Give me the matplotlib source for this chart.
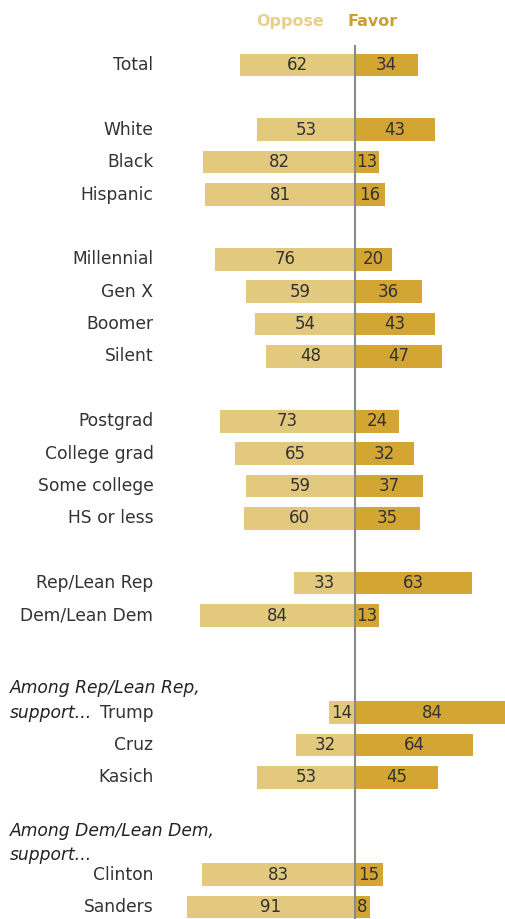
import matplotlib
matplotlib.use("Agg")
import matplotlib.pyplot as plt

categories = ["Total", "White", "Black", "Hispanic", "Millennial", "Gen X", "Boomer", "Silent",
              "Postgrad", "College grad", "Some college", "HS or less",
              "Rep/Lean Rep", "Dem/Lean Dem", "Trump", "Cruz", "Kasich", "Clinton", "Sanders"]
oppose = [62, 53, 82, 81, 76, 59, 54, 48, 73, 65, 59, 60, 33, 84, 14, 32, 53, 83, 91]
favor = [34, 43, 13, 16, 20, 36, 43, 47, 24, 32, 37, 35, 63, 13, 84, 64, 45, 15, 8]
rowIndex = [0, 2, 3, 4, 6, 7, 8, 9, 11, 12, 13, 14, 16, 17, 20, 21, 22, 25, 26]

opposeColor = "#E2C97E"
favorColor = "#D3A532"
textColor = "#333333"
labelSize = 12.3

fig = plt.figure(figsize=(5.05, 9.19), dpi=100)
ax = fig.add_axes([0, 0, 1, 1])
ax.set_xlim(-192, 81.1)
ax.set_ylim(26.37, -2.007)
ax.axis("off")

barHeight = 0.7
ax.barh(rowIndex, [-v for v in oppose], height=barHeight, color=opposeColor, zorder=2)
ax.barh(rowIndex, favor, height=barHeight, color=favorColor, zorder=2)

for i, row in enumerate(rowIndex):
    ax.text(-oppose[i] / 2, row, str(oppose[i]), ha="center", va="center",
            fontsize=12, color=textColor, zorder=4)
    ax.text(favor[i] / 2, row, str(favor[i]), ha="center", va="center",
            fontsize=12, color=textColor, zorder=4)
    ax.text(-109, row, categories[i], ha="right", va="center",
            fontsize=labelSize, color=textColor)

# center line
ax.plot([0, 0], [-0.6, 26.37], color="#8a8a8a", linewidth=1.5, zorder=3)

# column headers
ax.text(-35, -1.33, "Oppose", ha="center", va="center", fontsize=11.5,
        fontweight="bold", color="#E8CF8A")
ax.text(9.5, -1.33, "Favor", ha="center", va="center", fontsize=11.5,
        fontweight="bold", color="#C9A030")

# group headers
ax.text(-186.5, 19.25, "Among Rep/Lean Rep,", ha="left", va="center",
        fontsize=labelSize, style="italic", color="#222222")
ax.text(-186.5, 20, "support...", ha="left", va="center",
        fontsize=labelSize, style="italic", color="#222222")
ax.text(-186.5, 23.66, "Among Dem/Lean Dem,", ha="left", va="center",
        fontsize=labelSize, style="italic", color="#222222")
ax.text(-186.5, 24.4, "support...", ha="left", va="center",
        fontsize=labelSize, style="italic", color="#222222")

fig.savefig("out.png", dpi=100)
